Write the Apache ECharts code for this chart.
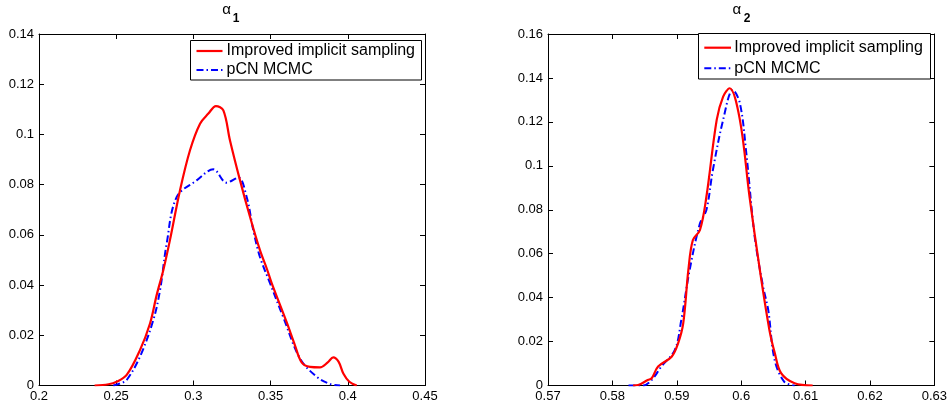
<!DOCTYPE html>
<html>
<head>
<meta charset="utf-8">
<script src="https://cdn.jsdelivr.net/npm/echarts@6/dist/echarts.min.js"></script>
<style>html,body{margin:0;padding:0;background:#fff;}#c{width:950px;height:407px;}</style>
</head>
<body>
<div id="c"></div>
<script>
// ---- data ----
var seriesNames = ['Improved implicit sampling', 'pCN MCMC'];
var titles = ['1', '2'];

var a1ImpX = [0.236,0.245,0.2503,0.2568,0.2654,0.2719,0.2762,0.2805,0.2848,0.2913,0.2978,0.3043,0.3097,0.3146,0.3194,0.3237,0.3302,0.3367,0.3431,0.3475,0.3507,0.3604,0.3655,0.3701,0.3755,0.382,0.387,0.3906,0.394,0.3971,0.401,0.4058];
var a1ImpY = [0,0.0005,0.0015,0.0042,0.0141,0.0247,0.036,0.0459,0.0579,0.0777,0.0937,0.1043,0.1083,0.1113,0.1096,0.0976,0.0817,0.0671,0.0539,0.0466,0.0408,0.0252,0.0165,0.0092,0.0074,0.0072,0.0092,0.0112,0.0095,0.0048,0.0015,0];

var a1PcnX = [0.2481,0.2525,0.2568,0.2654,0.274,0.2784,0.2827,0.2892,0.3021,0.3129,0.3215,0.3291,0.3345,0.3388,0.3431,0.3496,0.3582,0.369,0.3798,0.3884,0.395];
var a1PcnY = [0,0.0008,0.0022,0.0115,0.026,0.038,0.0566,0.0751,0.0817,0.0861,0.0808,0.0828,0.0751,0.0618,0.0512,0.0408,0.0272,0.0108,0.0035,0.0006,0];

var a2ImpX = [0.5832,0.584,0.5855,0.5861,0.5871,0.5892,0.5902,0.591,0.5918,0.5925,0.5936,0.5946,0.5962,0.5972,0.5982,0.5998,0.6013,0.6029,0.6044,0.6052,0.6062,0.6083,0.6111];
var a2ImpY = [0,0.0002,0.0025,0.0033,0.0086,0.0131,0.0192,0.0283,0.0526,0.0662,0.0708,0.0859,0.1209,0.1315,0.1353,0.1209,0.0859,0.0526,0.025,0.015,0.0056,0.001,0];

var a2PcnX = [0.5825,0.5848,0.5861,0.5876,0.5897,0.5907,0.592,0.5936,0.5946,0.5956,0.5972,0.5987,0.5998,0.6008,0.6021,0.6034,0.6042,0.6052,0.6067,0.6083];
var a2PcnY = [0,0,0.0025,0.0086,0.0162,0.0298,0.0526,0.0738,0.0799,0.098,0.1209,0.1345,0.1285,0.1057,0.0677,0.045,0.0344,0.0116,0.0017,0];

var xTicks1 = {min:0.2, max:0.45, interval:0.05};
var yTicks1 = {min:0, max:0.14, interval:0.02};
var xTicks2 = {min:0.57, max:0.63, interval:0.01};
var yTicks2 = {min:0, max:0.16, interval:0.02};

function pairs(xs, ys){ return xs.map(function(x,i){ return [x, ys[i]]; }); }

var FONT = '"Liberation Sans", Arial, Helvetica, sans-serif';
var black = '#000';
var red = '#ff0000', blue = '#0000ff';
var DASHDOT = [7,3,1.5,3];

function axis(base, pos, gi, showLabel, labelMargin){
  return {
    type:'value', gridIndex:gi, position:pos,
    min:base.min, max:base.max, interval:base.interval,
    splitLine:{show:false},
    axisLine:{show:true, onZero:false, lineStyle:{color:black, width:1}},
    axisTick:{show:true, inside:true, length:5, lineStyle:{color:black, width:1}},
    axisLabel:{show:showLabel, color:black, fontSize:13, fontFamily:'Liberation Sans', margin:labelMargin}
  };
}

function impSeries(data, xi, yi){
  return {name:seriesNames[0], type:'line', xAxisIndex:xi, yAxisIndex:yi, data:data,
    smooth:0.35, symbol:'none', showSymbol:false,
    lineStyle:{color:red, width:2.2}, itemStyle:{color:red}, z:3};
}
function pcnSeries(data, xi, yi){
  return {name:seriesNames[1], type:'line', xAxisIndex:xi, yAxisIndex:yi, data:data,
    smooth:0.35, symbol:'none', showSymbol:false,
    lineStyle:{color:blue, width:2, type:DASHDOT}, itemStyle:{color:blue}, z:2};
}

// legend box drawn as graphic: box rect + line samples + texts
function legendGraphic(x, y, w, h, row1, row2, lineX0, lineX1, textX){
  return [
    {type:'rect', shape:{x:x, y:y, width:w, height:h}, style:{fill:'#fff', stroke:black, lineWidth:1}, z:10},
    {type:'line', shape:{x1:lineX0, y1:row1, x2:lineX1, y2:row1}, style:{stroke:red, lineWidth:2.2}, z:11},
    {type:'line', shape:{x1:lineX0, y1:row2, x2:lineX1, y2:row2}, style:{stroke:blue, lineWidth:2, lineDash:DASHDOT}, z:11},
    {type:'text', x:textX, y:row1, style:{text:seriesNames[0], font:'16px '+FONT, fill:black, align:'left', verticalAlign:'middle'}, z:11},
    {type:'text', x:textX, y:row2, style:{text:seriesNames[1], font:'16px '+FONT, fill:black, align:'left', verticalAlign:'middle'}, z:11}
  ];
}

var graphics = [
  {type:'text', x:226.7, y:10, style:{text:'α', font:'15px '+FONT, fill:black, align:'center', verticalAlign:'middle'}},
  {type:'text', x:236, y:18.7, style:{text:titles[0], font:'bold 12px '+FONT, fill:black, align:'center', verticalAlign:'middle'}},
  {type:'text', x:736.8, y:10, style:{text:'α', font:'15px '+FONT, fill:black, align:'center', verticalAlign:'middle'}},
  {type:'text', x:747, y:18.7, style:{text:titles[1], font:'bold 12px '+FONT, fill:black, align:'center', verticalAlign:'middle'}}
].concat(
  legendGraphic(190.5, 40.5, 231, 39.5, 51, 70, 196.5, 222.5, 226.5),
  legendGraphic(698.5, 33.5, 232, 45.5, 47.7, 68.3, 704.3, 731, 734.3)
);

var chart = echarts.init(document.getElementById('c'), null, {renderer:'canvas'});
chart.setOption({
  animation:false,
  backgroundColor:'#fff',
  grid:[
    {left:39, top:34, width:386, height:351.5},
    {left:548, top:34, width:387, height:351.5}
  ],
  xAxis:[
    axis(xTicks1,'bottom',0,true,4),
    axis(xTicks1,'top',0,false,4),
    axis(xTicks2,'bottom',1,true,4),
    axis(xTicks2,'top',1,false,4)
  ],
  yAxis:[
    axis(yTicks1,'left',0,true,5),
    axis(yTicks1,'right',0,false,5),
    axis(yTicks2,'left',1,true,5),
    axis(yTicks2,'right',1,false,5)
  ],
  graphic:graphics,
  series:[
    impSeries(pairs(a1ImpX,a1ImpY),0,0),
    pcnSeries(pairs(a1PcnX,a1PcnY),0,0),
    impSeries(pairs(a2ImpX,a2ImpY),2,2),
    pcnSeries(pairs(a2PcnX,a2PcnY),2,2)
  ]
});
</script>
</body>
</html>
